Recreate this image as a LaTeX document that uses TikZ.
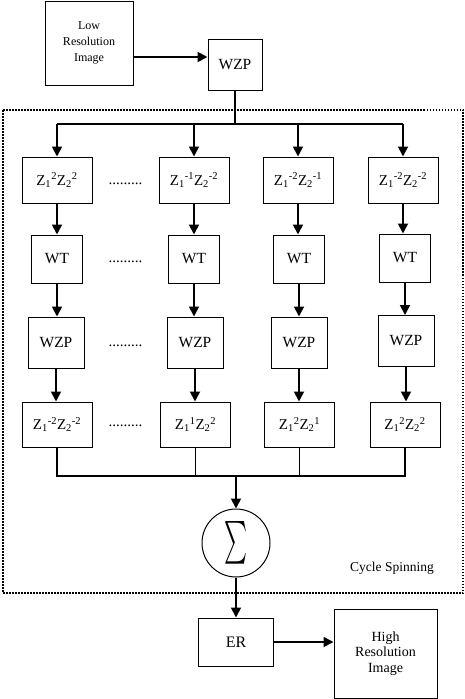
\documentclass[tikz,border=0pt]{standalone}
\usepackage{fontspec}
\usepackage{graphicx}
\setmainfont{Liberation Serif}
\usetikzlibrary{arrows.meta}
\newcommand{\zlab}[2]{Z\textsubscript{1}\textsuperscript{#1}Z\textsubscript{2}\textsuperscript{#2}}
\begin{document}
\begin{tikzpicture}[x=1pt,y=-1pt,
  box/.style={draw,line width=1pt,inner sep=0pt,align=center},
  zbox/.style={box,minimum width=70pt,minimum height=46pt,font=\fontsize{15}{18}\selectfont},
  wtbox/.style={box,minimum width=51pt,minimum height=48pt,font=\fontsize{15.5}{18}\selectfont},
  wzbox/.style={box,minimum width=56pt,minimum height=51pt,font=\fontsize{15.5}{18}\selectfont},
  arr/.style={line width=1.8pt,-{Triangle[length=10pt,width=10pt]}},
  thinline/.style={line width=1.1pt},
  frame/.style={line width=1.5pt,dash pattern=on 1.5pt off 1.5pt},
  dots/.style={anchor=base,inner sep=0pt,font=\fontsize{15}{18}\selectfont}]
\useasboundingbox (0,0) rectangle (465,699);
% top
\node[box,minimum width=88pt,minimum height=84pt,font=\fontsize{12}{16}\selectfont] (lri) at (89,43) {Low\\Resolution\\Image};
\node[box,minimum width=54pt,minimum height=51pt,font=\fontsize{15.5}{18}\selectfont] (wzp0) at (235,64.5) {WZP};
\draw[arr] ([yshift=-14pt]lri.east) coordinate (la) -- (la -| wzp0.west);
% frame
\draw[frame] (3,110) rectangle (463,593);
\node[font=\fontsize{13.5}{16}\selectfont,inner sep=0pt] (cs) at (392,568) {Cycle Spinning};
% row 1
\node[zbox] (a1) at (57,180) {\zlab{2}{2}};
\node[zbox] (a2) at (194,180) {\zlab{-1}{-2}};
\node[zbox] (a3) at (298,180) {\zlab{-2}{-1}};
\node[zbox] (a4) at (403,180) {\zlab{-2}{-2}};
% row 2
\node[wtbox] (b1) at (57,259) {WT};
\node[wtbox] (b2) at (194,259) {WT};
\node[wtbox] (b3) at (299,259) {WT};
\node[wtbox] (b4) at (405,258) {WT};
% row 3
\node[wzbox] (c1) at (56,342.5) {WZP};
\node[wzbox] (c2) at (195,342.5) {WZP};
\node[wzbox] (c3) at (299,342.5) {WZP};
\node[wzbox] (c4) at (406,341) {WZP};
% row 4
\node[zbox,minimum height=45pt] (e1) at (57,424.5) {\zlab{-2}{-2}};
\node[zbox,minimum height=45pt] (e2) at (195.5,424.5) {\zlab{1}{2}};
\node[zbox,minimum height=45pt] (e3) at (299.5,424.5) {\zlab{2}{1}};
\node[zbox,minimum height=45pt] (e4) at (405,424.5) {\zlab{2}{2}};
% dots
\node[dots] (p1) at (125.5,184) {.........};
\node[dots] (p2) at (125.5,262) {.........};
\node[dots] (p3) at (125.5,346) {.........};
\node[dots] (p4) at (125.5,426) {.........};
% distribution
\coordinate (d) at (235,124);
\draw[thinline] (wzp0.south) -- (d);
\draw[thinline] (a1.north |- d) -- (a4.north |- d);
\foreach \i in {1,2,3,4}{
  \draw[arr] (a\i.north |- d) -- (a\i.north);
  \draw[arr] (a\i.south) -- (a\i.south |- b\i.north);
  \draw[arr] (b\i.south) -- (b\i.south |- c\i.north);
  \draw[arr] (c\i.south) -- (c\i.south |- e\i.north);
}
% collector
\coordinate (c) at (236,476);
\draw[thinline] (e1.south) -- (e1.south |- c) -- (e4.south |- c) -- (e4.south);
\draw[thinline] (e2.south) -- (e2.south |- c);
\draw[thinline] (e3.south) -- (e3.south |- c);
\node[draw,circle,line width=1pt,minimum size=68pt,inner sep=0pt] (sum) at (236,543) {\resizebox{23pt}{32pt}{$\sum$}};
\draw[arr] (c) -- (sum.north);
% bottom
\node[box,minimum width=75pt,minimum height=48pt,font=\fontsize{16}{18}\selectfont] (er) at (236,642) {ER};
\node[box,minimum width=103pt,minimum height=89pt,font=\fontsize{14}{15.5}\selectfont] (hri) at (385.5,653.5) {High\\Resolution\\Image};
\draw[arr] (sum.south) -- (er.north);
\draw[arr] (er.east) -- (er.east -| hri.west);
\end{tikzpicture}
\end{document}
